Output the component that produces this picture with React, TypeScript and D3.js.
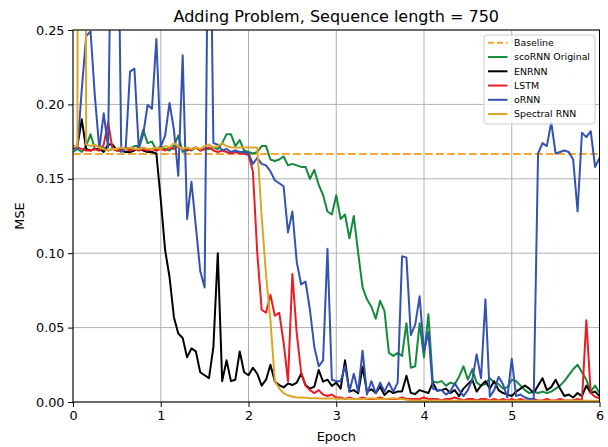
import React, { useEffect, useRef } from "react";
import * as d3 from "d3";

// epochs: 20 evaluations per epoch, 0 .. 6
const epochs = d3.range(121).map((i) => i * 0.05);
const xTicks = [0, 1, 2, 3, 4, 5, 6];
const yTicks = [0, 0.05, 0.1, 0.15, 0.2, 0.25];
const baselineValue = 0.1667;

const scoRNN = [
  0.168, 0.170, 0.168, 0.172, 0.180, 0.170, 0.169, 0.171, 0.169, 0.170,
  0.170, 0.169, 0.171, 0.170, 0.172, 0.172, 0.183, 0.174, 0.175, 0.169,
  0.172, 0.170, 0.169, 0.172, 0.179, 0.168, 0.170, 0.169, 0.171, 0.169,
  0.170, 0.170, 0.171, 0.170, 0.174, 0.180, 0.180, 0.172, 0.176, 0.169,
  0.168, 0.167, 0.168, 0.172, 0.172, 0.163, 0.162, 0.163, 0.165, 0.159,
  0.160, 0.159, 0.158, 0.158, 0.150, 0.156, 0.146, 0.139, 0.128, 0.126,
  0.139, 0.123, 0.126, 0.110, 0.125, 0.100, 0.077, 0.069, 0.064, 0.056,
  0.068, 0.061, 0.033, 0.031, 0.033, 0.031, 0.053, 0.023, 0.024, 0.053,
  0.030, 0.059, 0.014, 0.013, 0.014, 0.011, 0.013, 0.012, 0.017, 0.024,
  0.015, 0.022, 0.013, 0.011, 0.012, 0.016, 0.013, 0.012, 0.009, 0.010,
  0.015, 0.014, 0.011, 0.008, 0.006, 0.007, 0.006, 0.007, 0.006, 0.007,
  0.009, 0.011, 0.014, 0.018, 0.022, 0.025, 0.020, 0.015, 0.007, 0.011, 0.006,
];

const enrnn = [
  0.170, 0.172, 0.190, 0.170, 0.169, 0.170, 0.170, 0.168, 0.173, 0.173,
  0.169, 0.169, 0.168, 0.168, 0.169, 0.171, 0.169, 0.168, 0.168, 0.167,
  0.136, 0.102, 0.084, 0.057, 0.046, 0.043, 0.030, 0.036, 0.034, 0.020,
  0.018, 0.016, 0.037, 0.100, 0.014, 0.028, 0.014, 0.015, 0.034, 0.020,
  0.018, 0.023, 0.019, 0.011, 0.015, 0.025, 0.0137, 0.0114, 0.0098, 0.0125,
  0.0114, 0.013, 0.019, 0.0114, 0.009, 0.0103, 0.0215, 0.0137, 0.015, 0.0108,
  0.013, 0.009, 0.028, 0.007, 0.008, 0.006, 0.0237, 0.007, 0.0085, 0.006,
  0.0103, 0.0047, 0.0076, 0.006, 0.007, 0.007, 0.0177, 0.006, 0.0054, 0.008,
  0.007, 0.006, 0.013, 0.0076, 0.008, 0.009, 0.006, 0.008, 0.004, 0.009,
  0.012, 0.015, 0.007, 0.011, 0.014, 0.009, 0.014, 0.008, 0.006, 0.005,
  0.004, 0.007, 0.009, 0.011, 0.009, 0.006, 0.011, 0.016, 0.008, 0.010,
  0.015, 0.009, 0.004, 0.005, 0.003, 0.006, 0.004, 0.011, 0.006, 0.007, 0.004,
];

const lstm = [
  0.172, 0.171, 0.170, 0.169, 0.169, 0.170, 0.169, 0.173, 0.188, 0.170,
  0.169, 0.169, 0.170, 0.169, 0.170, 0.169, 0.170, 0.169, 0.170, 0.169,
  0.170, 0.169, 0.171, 0.170, 0.172, 0.170, 0.169, 0.170, 0.171, 0.169,
  0.170, 0.171, 0.169, 0.168, 0.169, 0.168, 0.167, 0.168, 0.167, 0.167,
  0.166, 0.155, 0.100, 0.062, 0.060, 0.072, 0.058, 0.060, 0.040, 0.014,
  0.086, 0.046, 0.020, 0.011, 0.008, 0.006, 0.008, 0.005, 0.004, 0.005,
  0.003, 0.003, 0.002, 0.003, 0.002, 0.002, 0.003, 0.002, 0.002, 0.002,
  0.003, 0.002, 0.002, 0.002, 0.002, 0.003, 0.002, 0.002, 0.002, 0.002,
  0.003, 0.002, 0.002, 0.002, 0.001, 0.002, 0.002, 0.003, 0.002, 0.001,
  0.002, 0.002, 0.001, 0.002, 0.002, 0.001, 0.002, 0.001, 0.002, 0.001,
  0.002, 0.001, 0.002, 0.001, 0.001, 0.002, 0.001, 0.001, 0.002, 0.001,
  0.001, 0.002, 0.001, 0.001, 0.001, 0.002, 0.001, 0.055, 0.006, 0.0035, 0.0025,
];

const ornn = [
  0.172, 0.170, 0.210, 0.246, 0.249, 0.205, 0.170, 0.194, 0.171, 0.400,
  0.400, 0.168, 0.170, 0.222, 0.224, 0.170, 0.180, 0.1996, 0.197, 0.244,
  0.1716, 0.179, 0.201, 0.183, 0.152, 0.233, 0.123, 0.148, 0.118, 0.088,
  0.077, 0.400, 0.174, 0.173, 0.169, 0.170, 0.168, 0.169, 0.168, 0.168,
  0.167, 0.160, 0.164, 0.160, 0.159, 0.155, 0.149, 0.147, 0.145, 0.114,
  0.128, 0.094, 0.079, 0.081, 0.062, 0.037, 0.024, 0.028, 0.103, 0.015,
  0.014, 0.014, 0.024, 0.007, 0.019, 0.007, 0.0345, 0.005, 0.014, 0.006,
  0.013, 0.007, 0.013, 0.007, 0.013, 0.098, 0.097, 0.045, 0.052, 0.071,
  0.034, 0.047, 0.009, 0.008, 0.008, 0.005, 0.007, 0.0125, 0.008, 0.004,
  0.008, 0.015, 0.032, 0.016, 0.069, 0.0036, 0.008, 0.017, 0.012, 0.003,
  0.029, 0.004, 0.005, 0.003, 0.002, 0.002, 0.167, 0.174, 0.172, 0.188,
  0.167, 0.168, 0.169, 0.168, 0.163, 0.128, 0.181, 0.178, 0.182, 0.158, 0.164,
];

const spectral = [
  0.171, 0.172, 2.0, 0.173, 0.172, 0.173, 0.171, 0.170, 0.169, 0.170,
  0.170, 0.171, 0.170, 0.171, 0.170, 0.170, 0.171, 0.170, 0.170, 0.171,
  0.170, 0.172, 0.171, 0.174, 0.172, 0.170, 0.171, 0.170, 0.171, 0.170,
  0.172, 0.173, 0.171, 0.172, 0.174, 0.172, 0.171, 0.171, 0.171, 0.171,
  0.171, 0.171, 0.171, 0.125, 0.085, 0.055, 0.014, 0.009, 0.006, 0.0045,
  0.0035, 0.003, 0.003, 0.0028, 0.0026, 0.0025, 0.0025, 0.0024, 0.0023, 0.0023,
  0.0022, 0.0022, 0.0021, 0.0022, 0.002, 0.0021, 0.002, 0.0022, 0.0025, 0.0022,
  0.002, 0.002, 0.0022, 0.0025, 0.0022, 0.002, 0.0015, 0.0012, 0.001, 0.001,
  0.001, 0.001, 0.001, 0.001, 0.0009, 0.001, 0.0009, 0.0009, 0.001, 0.0009,
  0.0009, 0.0009, 0.0008, 0.0009, 0.0008, 0.0008, 0.0009, 0.0008, 0.0008, 0.0008,
  0.0008, 0.0008, 0.0008, 0.0008, 0.0008, 0.0008, 0.0008, 0.0008, 0.0008, 0.0008,
  0.0008, 0.0008, 0.0008, 0.0008, 0.0008, 0.0008, 0.0008, 0.0008, 0.0008, 0.0008, 0.0008,
];

const seriesNames = ["scoRNN Original", "ENRNN", "LSTM", "oRNN", "Spectral RNN"];
const seriesValues = [scoRNN, enrnn, lstm, ornn, spectral];
const seriesColors = ["#13893b", "#000000", "#ec1c24", "#3352b2", "#dca626"];
const baselineColor = "#f7a731";

const W = 608;
const H = 447;
const font = "DejaVu Sans, sans-serif";

export default function App() {
  const svgRef = useRef<SVGSVGElement | null>(null);

  useEffect(() => {
    const svg = d3.select(svgRef.current).attr("width", W).attr("height", H);
    svg.selectAll("*").remove();

    const left = 73, right = 599.5, top = 30, bottom = 402;
    const x = d3.scaleLinear().domain([0, 6]).range([left, right]);
    const y = d3.scaleLinear().domain([0, 0.25]).range([bottom, top]);

    svg.append("rect").attr("width", W).attr("height", H).attr("fill", "#fff");

    svg
      .append("defs")
      .append("clipPath")
      .attr("id", "plotClip")
      .append("rect")
      .attr("x", left)
      .attr("y", top)
      .attr("width", right - left)
      .attr("height", bottom - top);

    // grid
    const grid = svg.append("g").attr("stroke", "#b0b0b0").attr("stroke-width", 1);
    xTicks.forEach((t) => {
      grid.append("line").attr("x1", x(t)).attr("x2", x(t)).attr("y1", top).attr("y2", bottom);
    });
    yTicks.forEach((t) => {
      grid.append("line").attr("x1", left).attr("x2", right).attr("y1", y(t)).attr("y2", y(t));
    });

    const plot = svg.append("g").attr("clip-path", "url(#plotClip)");

    // baseline
    plot
      .append("line")
      .attr("x1", x(0))
      .attr("x2", x(6))
      .attr("y1", y(baselineValue))
      .attr("y2", y(baselineValue))
      .attr("stroke", baselineColor)
      .attr("stroke-width", 2)
      .attr("stroke-dasharray", "7.7,3.3");

    const line = d3
      .line<number>()
      .x((d, i) => x(epochs[i]))
      .y((d) => y(d));

    seriesValues.forEach((vals, k) => {
      plot
        .append("path")
        .datum(vals)
        .attr("d", line)
        .attr("fill", "none")
        .attr("stroke", seriesColors[k])
        .attr("stroke-width", 2)
        .attr("stroke-linejoin", "round");
    });

    // axes
    const xAxis = svg
      .append("g")
      .attr("transform", `translate(0,${bottom})`)
      .call(d3.axisBottom(x).tickValues(xTicks).tickSize(5).tickPadding(3.5).tickFormat(d3.format("d")));
    const yAxis = svg
      .append("g")
      .attr("transform", `translate(${left},0)`)
      .call(d3.axisLeft(y).tickValues(yTicks).tickSize(5).tickPadding(3.5).tickFormat(d3.format(".2f")));
    [xAxis, yAxis].forEach((a) => {
      a.select(".domain").remove();
      a.selectAll("text").attr("font-family", font).attr("font-size", 12.8).attr("fill", "#000");
      a.selectAll("line").attr("stroke", "#000");
    });

    // spines
    svg
      .append("rect")
      .attr("x", left)
      .attr("y", top)
      .attr("width", right - left)
      .attr("height", bottom - top)
      .attr("fill", "none")
      .attr("stroke", "#000")
      .attr("stroke-width", 1);

    // legend
    const lg = svg.append("g");
    lg.append("rect")
      .attr("x", 484)
      .attr("y", 35)
      .attr("width", 111)
      .attr("height", 89)
      .attr("rx", 3)
      .attr("fill", "#fff")
      .attr("fill-opacity", 0.8)
      .attr("stroke", "#cccccc");
    const entries = [{ name: "Baseline", color: baselineColor, dash: true }].concat(
      seriesNames.map((n, k) => ({ name: n, color: seriesColors[k], dash: false }))
    );
    entries.forEach((e, k) => {
      const yy = 42.8 + k * 14.25;
      lg.append("line")
        .attr("x1", 488)
        .attr("x2", 507.5)
        .attr("y1", yy)
        .attr("y2", yy)
        .attr("stroke", e.color)
        .attr("stroke-width", 2)
        .attr("stroke-dasharray", e.dash ? "6,3" : null);
      lg.append("text")
        .attr("x", 514)
        .attr("y", yy)
        .attr("dy", "0.35em")
        .attr("font-family", font)
        .attr("font-size", 9.4)
        .text(e.name);
    });

    // titles
    svg
      .append("text")
      .attr("x", (left + right) / 2)
      .attr("y", 22)
      .attr("text-anchor", "middle")
      .attr("font-family", font)
      .attr("font-size", 16)
      .text("Adding Problem, Sequence length = 750");
    svg
      .append("text")
      .attr("x", (left + right) / 2)
      .attr("y", 441)
      .attr("text-anchor", "middle")
      .attr("font-family", font)
      .attr("font-size", 12.8)
      .text("Epoch");
    svg
      .append("text")
      .attr("transform", "translate(20,216) rotate(-90)")
      .attr("dy", "0.35em")
      .attr("text-anchor", "middle")
      .attr("font-family", font)
      .attr("font-size", 12.8)
      .text("MSE");
  }, []);

  return <svg ref={svgRef} style={{ position: "absolute", left: 0, top: 0 }}></svg>;
}
